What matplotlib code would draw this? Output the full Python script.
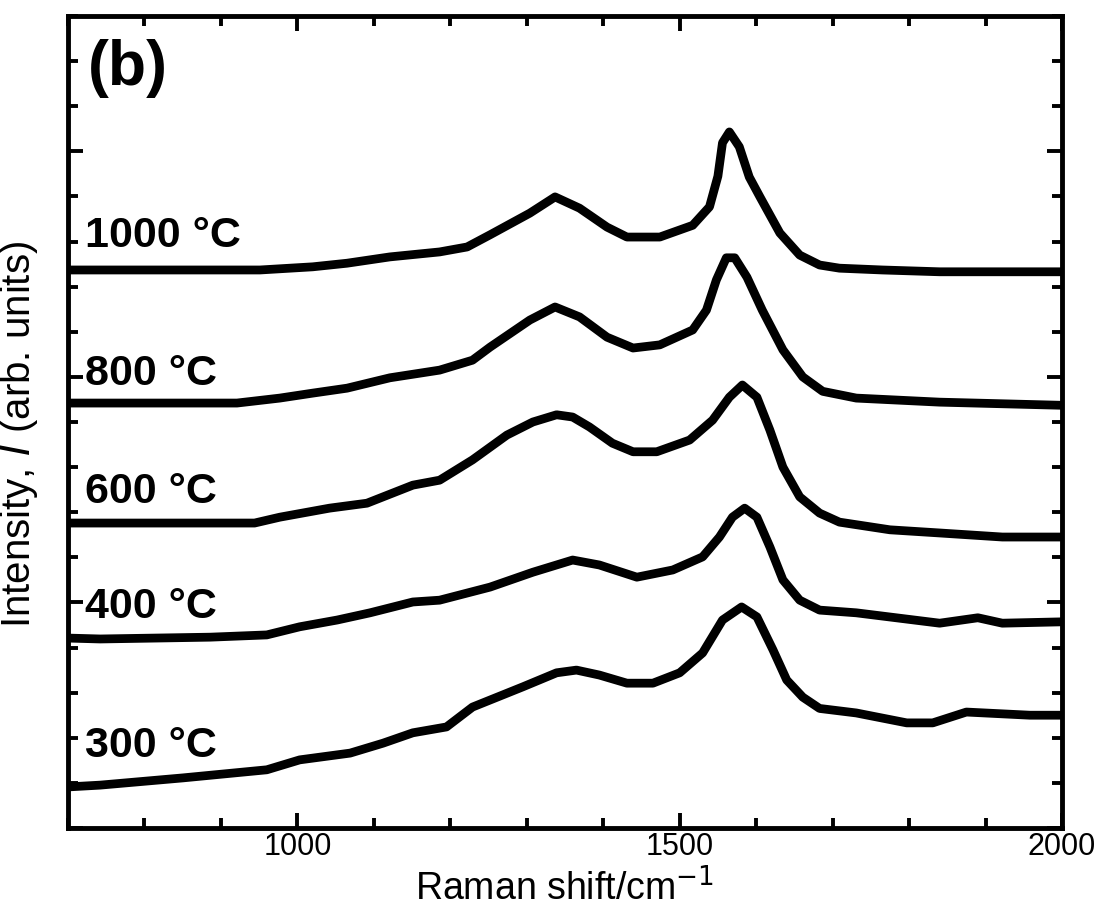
import matplotlib
matplotlib.use("Agg")
import matplotlib.pyplot as plt
from matplotlib.ticker import MultipleLocator, NullFormatter

plt.rcParams["font.family"] = ["Liberation Sans", "DejaVu Sans"]

# Raman spectra, stacked (arb. units)
x_1000 = [700, 951, 1020, 1065, 1121, 1186, 1222, 1252, 1304, 1337, 1369, 1405, 1431, 1474, 1517,
          1539, 1550, 1556, 1565, 1578, 1591, 1605, 1631, 1657, 1683, 1709, 1765, 1840, 2000]
y_1000 = [12.37, 12.37, 12.44, 12.52, 12.66, 12.77, 12.88, 13.15, 13.63, 13.99, 13.74, 13.32, 13.10, 13.10, 13.36,
          13.77, 14.45, 15.19, 15.43, 15.10, 14.43, 13.99, 13.19, 12.70, 12.48, 12.41, 12.37, 12.33, 12.33]

x_800 = [700, 921, 977, 1020, 1065, 1121, 1186, 1229, 1252, 1304, 1337, 1369, 1405, 1439,
         1474, 1517, 1535, 1548, 1561, 1572, 1588, 1608, 1635, 1661, 1687, 1731, 1840, 2000]
y_800 = [9.42, 9.42, 9.53, 9.64, 9.75, 9.98, 10.15, 10.37, 10.66, 11.26, 11.55, 11.33, 10.88, 10.64,
         10.71, 11.04, 11.48, 12.15, 12.64, 12.64, 12.21, 11.48, 10.60, 10.00, 9.68, 9.53, 9.44, 9.37]

x_600 = [700, 944, 977, 1042, 1091, 1151, 1186, 1229, 1274, 1308, 1339, 1360, 1382, 1412, 1439,
         1470, 1513, 1543, 1565, 1582, 1601, 1618, 1635, 1657, 1683, 1709, 1775, 1840, 1922, 2000]
y_600 = [6.76, 6.76, 6.89, 7.09, 7.20, 7.60, 7.71, 8.16, 8.71, 9.00, 9.16, 9.11, 8.89, 8.53, 8.34,
         8.34, 8.60, 9.04, 9.55, 9.82, 9.55, 8.82, 8.00, 7.34, 6.98, 6.78, 6.61, 6.54, 6.45, 6.45]

x_400 = [700, 742, 886, 960, 1003, 1052, 1095, 1151, 1186, 1252, 1308, 1360, 1395, 1444, 1491,
         1530, 1552, 1569, 1585, 1601, 1618, 1635, 1657, 1683, 1731, 1840, 1890, 1922, 2000]
y_400 = [4.21, 4.19, 4.23, 4.28, 4.46, 4.61, 4.77, 5.01, 5.05, 5.34, 5.67, 5.94, 5.83, 5.56, 5.72,
         6.01, 6.45, 6.89, 7.09, 6.89, 6.23, 5.50, 5.05, 4.83, 4.77, 4.54, 4.66, 4.54, 4.57]

x_300 = [700, 742, 850, 960, 1003, 1069, 1112, 1151, 1195, 1229, 1295, 1339, 1365, 1395, 1431, 1465,
         1500, 1530, 1556, 1581, 1601, 1622, 1640, 1661, 1683, 1731, 1797, 1831, 1875, 1958, 2000]
y_300 = [0.91, 0.95, 1.11, 1.29, 1.51, 1.66, 1.88, 2.11, 2.24, 2.68, 3.13, 3.44, 3.50, 3.39, 3.21, 3.21,
         3.44, 3.88, 4.61, 4.90, 4.68, 3.95, 3.28, 2.90, 2.65, 2.55, 2.33, 2.33, 2.57, 2.50, 2.50]

labels = ["1000 °C", "800 °C", "600 °C", "400 °C", "300 °C"]
label_y = [12.88, 9.82, 7.20, 4.66, 1.57]

curves = [(x_1000, y_1000), (x_800, y_800), (x_600, y_600), (x_400, y_400), (x_300, y_300)]

fig = plt.figure(figsize=(10.99, 9.15), dpi=100)
ax = fig.add_axes([0.0619, 0.0951, 0.9044, 0.8874])

for (xs, ys), lab, ly in zip(curves, labels, label_y):
    ax.plot(xs, ys, color="black", lw=6.3, solid_joinstyle="round", solid_capstyle="butt")
    ax.text(722, ly, lab, fontsize=31, fontweight="bold", va="baseline", ha="left")

ax.text(0.02, 0.972, "(b)", transform=ax.transAxes, fontsize=45, fontweight="bold",
        va="top", ha="left")

ax.set_xlim(700, 2000)
ax.set_ylim(0, 18)

ax.xaxis.set_major_locator(MultipleLocator(500))
ax.xaxis.set_minor_locator(MultipleLocator(100))
ax.yaxis.set_major_locator(MultipleLocator(5))
ax.yaxis.set_minor_locator(MultipleLocator(1))
ax.yaxis.set_major_formatter(NullFormatter())

ax.tick_params(which="both", direction="in", top=True, right=True, width=2.8, colors="black")
ax.tick_params(which="major", length=11, labelsize=22, pad=3)
ax.tick_params(which="minor", length=7)
for s in ax.spines.values():
    s.set_linewidth(3.5)

ax.set_xlabel("Raman shift/cm$^{-1}$", fontsize=27, labelpad=4)
ax.set_ylabel("Intensity, $I$ (arb. units)", fontsize=29)
ax.yaxis.set_label_coords(-0.028, 0.485)

fig.savefig("out.png", dpi=100)
